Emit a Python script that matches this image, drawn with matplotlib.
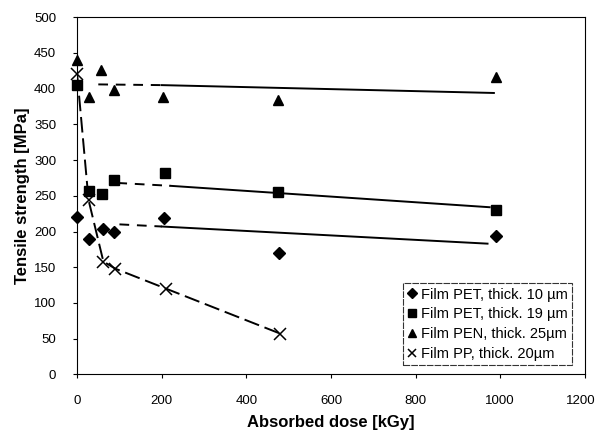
import matplotlib
matplotlib.use("Agg")
import matplotlib.pyplot as plt
import matplotlib.transforms as mtransforms

plt.rcParams['font.family'] = ['Liberation Sans', 'DejaVu Sans']

# Data
pet10_x = [0, 28, 60, 88, 206, 478, 990]
pet10_y = [220, 190, 204, 200, 219, 170, 194]
pet19_x = [0, 28, 58, 86, 208, 475, 990]
pet19_y = [405, 257, 252, 272, 282, 256, 230]
pen_x = [0, 28, 56, 86, 203, 475, 989]
pen_y = [440, 389, 426, 398, 389, 384, 416]
pp_x = [0, 27, 62, 90, 210, 480]
pp_y = [420, 244, 158, 148, 120, 57]

# Trend lines
pet10_fit_x = [100, 200, 970]
pet10_fit_y = [210, 207, 183]
pet19_fit_x = [95, 220, 975]
pet19_fit_y = [268, 264, 234]
pen_fit_x = [50, 200, 985]
pen_fit_y = [406, 405, 394]
pp_fit_x = [0, 27, 62, 90, 210, 480]
pp_fit_y = [420, 244, 158, 148, 120, 57]

labels = ["Film PET, thick. 10 µm", "Film PET, thick. 19 µm",
          "Film PEN, thick. 25µm", "Film PP, thick. 20µm"]
xticks = [0, 200, 400, 600, 800, 1000, 1200]
yticks = [0, 50, 100, 150, 200, 250, 300, 350, 400, 450, 500]

fig = plt.figure(figsize=(5.98, 4.32), dpi=100)
ax = fig.add_axes([0.129, 0.1335, 0.849, 0.8265])

k = 'black'
# trend lines: dashed start, solid continuation
for fx, fy in [(pet10_fit_x, pet10_fit_y), (pet19_fit_x, pet19_fit_y), (pen_fit_x, pen_fit_y)]:
    ax.plot(fx[:2], fy[:2], color=k, lw=1.4, ls=(0, (5, 4)))
    ax.plot(fx[1:], fy[1:], color=k, lw=1.4)
ax.plot(pp_fit_x, pp_fit_y, color=k, lw=1.4, ls=(0, (8, 3)))

ax.plot(pet10_x, pet10_y, ls='none', marker='D', ms=6, color=k, clip_on=False, label=labels[0])
ax.plot(pet19_x, pet19_y, ls='none', marker='s', ms=7, color=k, clip_on=False, label=labels[1])
ax.plot(pen_x, pen_y, ls='none', marker='^', ms=7.5, color=k, clip_on=False, label=labels[2])
ax.plot(pp_x, pp_y, ls='none', marker='x', ms=8, mew=1.1, color=k, clip_on=False, label=labels[3])

ax.set_xlim(0, 1200)
ax.set_ylim(0, 500)
ax.set_xticks(xticks)
ax.set_yticks(yticks)
ax.tick_params(direction='out', length=3, labelsize=9.5, width=0.8)
ax.tick_params(axis='x', pad=12)
ax.tick_params(axis='y', pad=12)
for s in ax.spines.values():
    s.set_linewidth(0.8)
ax.spines['top'].set_linestyle((0, (8, 1)))
ax.spines['right'].set_linestyle((0, (8, 1)))

# keep the last x tick label inside the figure
last = ax.get_xticklabels()[-1]
last.set_transform(last.get_transform() + mtransforms.ScaledTranslation(-4 / 100, 0, fig.dpi_scale_trans))

ax.set_xlabel("Absorbed dose [kGy]", fontsize=12, fontweight='bold', labelpad=6)
ax.set_ylabel("Tensile strength [MPa]", fontsize=12, fontweight='bold', labelpad=3)

leg = ax.legend(loc='lower right', bbox_to_anchor=(0.975, 0.025), fontsize=10.5, frameon=True,
                fancybox=False, edgecolor='black', handlelength=0.6, handletextpad=0.3,
                borderpad=0.3, labelspacing=0.4, borderaxespad=0)
leg.get_frame().set_linewidth(0.8)
leg.get_frame().set_linestyle((0, (6, 1)))
for h in leg.legend_handles:
    h.set_markersize(5.5)

fig.savefig("out.png", dpi=100)
